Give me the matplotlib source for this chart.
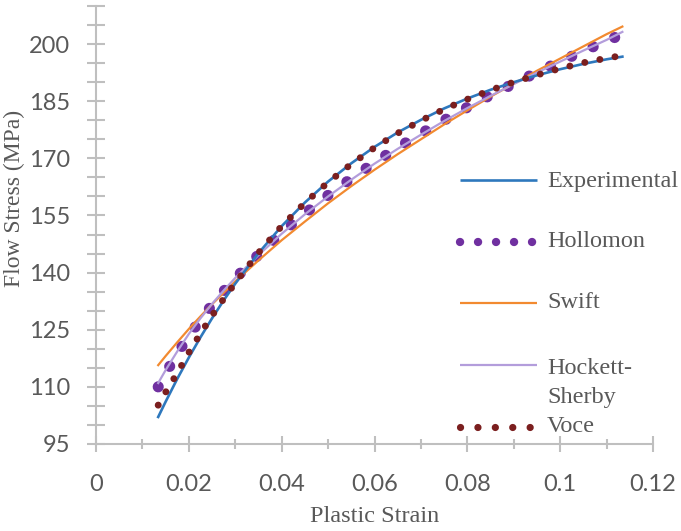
import matplotlib
matplotlib.use("Agg")
import matplotlib.pyplot as plt
from matplotlib.lines import Line2D
from matplotlib.ticker import MultipleLocator, FuncFormatter

# ---- data ----
strain = [0.0134, 0.015, 0.0175, 0.02, 0.0225, 0.025, 0.0275, 0.03, 0.035, 0.04,
          0.045, 0.05, 0.055, 0.06, 0.065, 0.07, 0.075, 0.08, 0.085, 0.09,
          0.095, 0.10, 0.105, 0.11, 0.1134]
experimental = [102.1, 106.1, 112.1, 117.7, 123.0, 128.0, 132.7, 137.1, 145.1, 152.2,
                158.4, 163.9, 168.7, 173.0, 176.8, 180.1, 183.1, 185.7, 188.0, 190.0,
                191.8, 193.4, 194.8, 196.0, 196.7]
hollomon = [110.0, 113.6, 118.7, 123.4, 127.6, 131.5, 135.1, 138.5, 144.7, 150.4,
            155.5, 160.3, 164.7, 168.9, 172.8, 176.5, 180.0, 183.4, 186.6, 189.6,
            192.6, 195.4, 198.2, 200.8, 202.6]
swift = [115.7, 118.1, 121.7, 125.2, 128.5, 131.7, 134.7, 137.7, 143.2, 148.5,
         153.4, 158.2, 162.7, 167.0, 171.1, 175.0, 178.9, 182.6, 186.2, 189.6,
         193.0, 196.2, 199.4, 202.6, 204.6]
hockett_sherby = [111.0, 114.4, 119.3, 123.9, 128.0, 131.8, 135.3, 138.6, 144.6, 150.2,
                  155.3, 160.0, 164.4, 168.6, 172.5, 176.2, 179.8, 183.2, 186.4, 189.5,
                  192.5, 195.4, 198.3, 201.1, 203.2]
voce = [105.2, 108.6, 113.6, 119.0, 124.0, 128.7, 133.1, 137.3, 145.2, 152.2,
        158.3, 163.7, 168.5, 172.8, 176.6, 179.9, 182.9, 185.5, 187.9, 190.0,
        191.9, 193.6, 195.1, 196.3, 197.0]
series_names = ["Experimental", "Hollomon", "Swift", "Hockett-\nSherby", "Voce"]
x_ticks = [0, 0.02, 0.04, 0.06, 0.08, 0.1, 0.12]
y_ticks = [95, 110, 125, 140, 155, 170, 185, 200]

# ---- style ----
C_EXP = "#2E78BD"
C_HOL = "#7030A0"
C_SWI = "#F28A30"
C_HS = "#B39DDB"
C_VOC = "#7B1F1F"
AXIS_C = "#BFBFBF"
TEXT_C = "#595959"
SANS = ["Lato", "DejaVu Sans"]
SERIF = ["Liberation Serif", "DejaVu Serif"]

W, H = 681, 531
fig = plt.figure(figsize=(W / 100, H / 100), dpi=100)
ax = fig.add_axes([96 / W, 1 - 444 / H, (653 - 96) / W, (444 - 6) / H])

ax.plot(strain, hollomon, color=C_HOL, lw=8.0, linestyle=(0, (0.01, 2.1)),
        dash_capstyle="round", solid_capstyle="round", zorder=2)
ax.plot(strain, swift, color=C_SWI, lw=1.6, zorder=3)
ax.plot(strain, hockett_sherby, color=C_HS, lw=1.6, zorder=4)
ax.plot(strain, experimental, color=C_EXP, lw=1.9, zorder=5)
ax.plot(strain, voce, color=C_VOC, lw=5.0, linestyle=(0, (0.01, 2.2)),
        dash_capstyle="round", solid_capstyle="round", zorder=6)

ax.set_xlim(0, 0.12)
ax.set_ylim(95, 210)
ax.xaxis.set_minor_locator(MultipleLocator(0.01))
ax.yaxis.set_minor_locator(MultipleLocator(5))
ax.set_xticks(x_ticks)
ax.set_yticks(y_ticks)
ax.xaxis.set_major_formatter(FuncFormatter(lambda v, p: "0" if abs(v) < 1e-9 else ("%g" % round(v, 3))))

for s in ["top", "right"]:
    ax.spines[s].set_visible(False)
for s in ["left", "bottom"]:
    ax.spines[s].set_color(AXIS_C)
    ax.spines[s].set_linewidth(1.5)
    ax.spines[s].set_zorder(1)

ax.tick_params(axis="y", which="both", direction="inout", length=13, width=1.5,
               color=AXIS_C, labelcolor=TEXT_C, labelsize=17, pad=12)
ax.tick_params(axis="x", which="major", direction="inout", length=11, width=1.5,
               color=AXIS_C, labelcolor=TEXT_C, labelsize=17, pad=16)
ax.tick_params(axis="x", which="minor", direction="inout", length=7.5, width=1.5,
               color=AXIS_C)
for lab in ax.get_xticklabels() + ax.get_yticklabels():
    lab.set_family(SANS)

ax.set_xlabel("Plastic Strain", family=SERIF, fontsize=17.5, color=TEXT_C)
ax.set_ylabel("Flow Stress (MPa)", family=SERIF, fontsize=17, color=TEXT_C)
ax.xaxis.set_label_coords(0.5, (444 - 517) / 438)
ax.yaxis.set_label_coords((14 - 96) / 557, (444 - 198) / 438)
ax.yaxis.label.set_va("center")
ax.xaxis.label.set_va("center")

# ---- legend (Excel-like layout at right) ----
def fy(ypx):
    return 1 - ypx / H

def fx(xpx):
    return xpx / W

handles = [
    dict(color=C_EXP, lw=1.9, ls="-"),
    dict(color=C_HOL, lw=6.0, ls=(0, (0.01, 2.15))),
    dict(color=C_SWI, lw=1.6, ls="-"),
    dict(color=C_HS, lw=1.6, ls="-"),
    dict(color=C_VOC, lw=5.2, ls=(0, (0.01, 2.4))),
]
handle_y = [180, 242, 303, 365, 427]
text_y = [181, 241, 302, 383, 426]
for name, hs, hy, ty in zip(series_names, handles, handle_y, text_y):
    ln = Line2D([fx(460), fx(537)], [fy(hy), fy(hy)], transform=fig.transFigure,
                color=hs["color"], lw=hs["lw"], linestyle=hs["ls"],
                dash_capstyle="round", solid_capstyle="butt")
    fig.add_artist(ln)
    fig.text(fx(547), fy(ty), name, family=SERIF, fontsize=17.5, color=TEXT_C,
             ha="left", va="center", linespacing=1.45)

fig.savefig("out.png", dpi=100)
